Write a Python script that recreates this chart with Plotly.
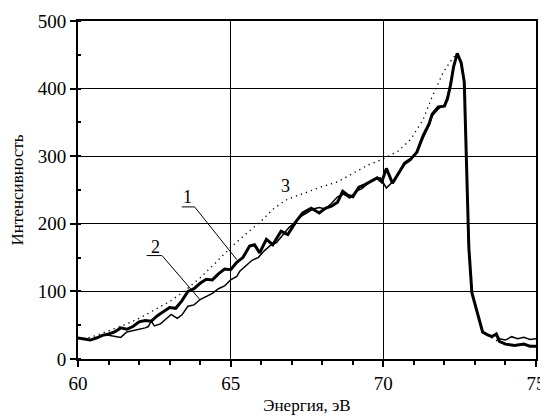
import plotly.graph_objects as go

# Curve 1 (thick)
x1 = [60.0, 60.2, 60.4, 60.6, 60.8, 61.0, 61.2, 61.4, 61.6, 61.8, 62.0, 62.2, 62.4, 62.6, 62.8,
      63.0, 63.2, 63.4, 63.6, 63.8, 64.0, 64.2, 64.4, 64.6, 64.8, 65.0, 65.2, 65.4, 65.62, 65.78,
      65.95, 66.17, 66.38, 66.65, 66.87, 67.15, 67.36, 67.64, 67.9, 68.1, 68.3, 68.5, 68.67, 68.85,
      69.0, 69.2, 69.4, 69.6, 69.8, 69.95, 70.1, 70.3, 70.5, 70.7, 70.9, 71.1, 71.3, 71.5, 71.6,
      71.8, 72.0, 72.1, 72.2, 72.3, 72.42, 72.55, 72.65, 72.7, 72.75, 72.8, 72.9, 73.1, 73.25,
      73.4, 73.55, 73.7, 73.8, 74.0, 74.3, 74.6, 74.8, 75.0]
y1 = [31, 29, 28, 31, 35, 37, 40, 46, 44, 48, 55, 57, 56, 64, 70,
      76, 75, 86, 100, 104, 112, 118, 117, 126, 133, 132, 143, 150, 167, 169,
      157, 177, 169, 189, 184, 204, 216, 223, 216, 223, 226, 232, 248, 242,
      240, 254, 258, 263, 268, 262, 282, 260, 276, 290, 296, 306, 330, 348, 362,
      373, 374, 385, 405, 432, 452, 438, 410, 330, 230, 165, 98, 65, 40,
      36, 33, 37, 26, 22, 20, 22, 19, 19]

# Curve 2 (thin)
x2 = [60.0, 60.2, 60.4, 60.6, 60.8, 61.0, 61.2, 61.4, 61.6, 61.8, 62.0, 62.2, 62.3, 62.4, 62.5,
      62.7, 62.9, 63.05, 63.25, 63.4, 63.6, 63.8, 64.0, 64.2, 64.4, 64.6, 64.8, 65.0, 65.2, 65.3,
      65.5, 65.7, 65.9, 66.1, 66.3, 66.5, 66.7, 66.9, 67.1, 67.3, 67.5, 67.7, 67.9, 68.1, 68.3,
      68.5, 68.7, 68.9, 69.1, 69.3, 69.5, 69.7, 69.9, 70.1, 70.3, 70.5, 70.7, 70.9, 71.1, 71.3,
      71.5, 71.6, 71.8, 72.0, 72.1, 72.2, 72.3, 72.42, 72.55, 72.65, 72.7, 72.75, 72.8, 72.9,
      73.1, 73.25, 73.4, 73.55, 73.7, 73.8, 74.0, 74.2, 74.4, 74.6, 74.8, 75.0]
y2 = [31, 29, 28, 31, 35, 35, 33, 32, 40, 42, 43, 46, 48, 56, 49,
      52, 60, 66, 60, 65, 78, 80, 88, 93, 97, 104, 108, 117, 122, 130,
      138, 146, 150, 160, 168, 172, 183, 194, 202, 211, 216, 222, 224, 222, 230,
      240, 244, 238, 248, 252, 260, 266, 268, 253, 262, 274, 288, 294, 308, 328,
      346, 360, 370, 376, 388, 408, 434, 452, 438, 410, 330, 230, 165, 98,
      65, 40, 36, 34, 37, 30, 28, 33, 30, 32, 29, 30]

# Curve 3 (dotted)
x3 = [60.0, 60.3, 60.6, 61.0, 61.5, 62.0, 62.5, 63.0, 63.5, 64.0, 64.5, 65.0, 65.5, 66.0, 66.4,
      66.8, 67.2, 67.6, 68.0, 68.5, 69.0, 69.5, 70.0, 70.5, 70.9, 71.3, 71.6, 71.95, 72.27, 72.42,
      72.55, 72.65, 72.7, 72.75, 72.8, 72.9, 73.1, 73.25, 73.5, 73.8, 74.2, 74.6, 75.0]
y3 = [30, 31, 35, 42, 50, 60, 72, 85, 101, 120, 142, 165, 185, 204, 222,
      235, 242, 249, 255, 262, 274, 287, 296, 308, 325, 354, 388, 423, 445, 452,
      440, 410, 330, 230, 165, 98, 65, 40, 33, 25, 21, 21, 19]

x_ticks = [60, 65, 70, 75]
y_ticks = [0, 100, 200, 300, 400, 500]

FONT = "Times New Roman"

fig = go.Figure()
fig.add_trace(go.Scatter(x=x3, y=y3, mode="lines",
                         line=dict(color="black", width=1.3, dash="1.3px,4px")))
fig.add_trace(go.Scatter(x=x2, y=y2, mode="lines",
                         line=dict(color="black", width=1.5)))
fig.add_trace(go.Scatter(x=x1, y=y1, mode="lines",
                         line=dict(color="black", width=3)))

# labels with leader lines
labels = [("1", 63.6, 240, [(63.4, 225), (63.82, 225), (65.2, 147)]),
          ("2", 62.55, 166, [(62.25, 153), (62.75, 153), (63.99, 88)]),
          ("3", 66.8, 256, None)]
for txt, lx, ly, pts in labels:
    fig.add_annotation(x=lx, y=ly, text=txt, showarrow=False,
                       font=dict(family=FONT, size=18, color="black"))
    if pts:
        for (ax0, ay0), (ax1, ay1) in zip(pts[:-1], pts[1:]):
            fig.add_shape(type="line", x0=ax0, y0=ay0, x1=ax1, y1=ay1,
                          xref="x", yref="y", line=dict(color="black", width=1))

fig.update_layout(
    width=540, height=407,
    margin=dict(l=70, r=12, t=13, b=56),
    paper_bgcolor="white", plot_bgcolor="white",
    showlegend=False,
    font=dict(family=FONT, size=18, color="black"),
)
fig.update_xaxes(range=[60, 75], tickvals=x_ticks, ticks="outside", ticklen=6,
                 tickwidth=1.5, tickcolor="black", automargin=False,
                 showline=True, linecolor="black", linewidth=2, mirror=True,
                 showgrid=True, gridcolor="black", gridwidth=1, zeroline=False,
                 minor=dict(dtick=1, ticks="outside", ticklen=4, tickcolor="black", showgrid=False),
                 tickfont=dict(family=FONT, size=19),
                 title=dict(text="Энергия, эВ", font=dict(family=FONT, size=17), standoff=10))
fig.update_yaxes(range=[0, 500], tickvals=y_ticks, ticks="outside", ticklen=6,
                 tickwidth=1.5, tickcolor="black", automargin=False,
                 showline=True, linecolor="black", linewidth=2, mirror=True,
                 showgrid=True, gridcolor="black", gridwidth=1, zeroline=False,
                 minor=dict(dtick=50, ticks="inside", ticklen=3, tickcolor="black", showgrid=False),
                 tickfont=dict(family=FONT, size=19),
                 title=dict(text="Интенсивность", font=dict(family=FONT, size=17), standoff=10))

fig.write_html("out.html")
